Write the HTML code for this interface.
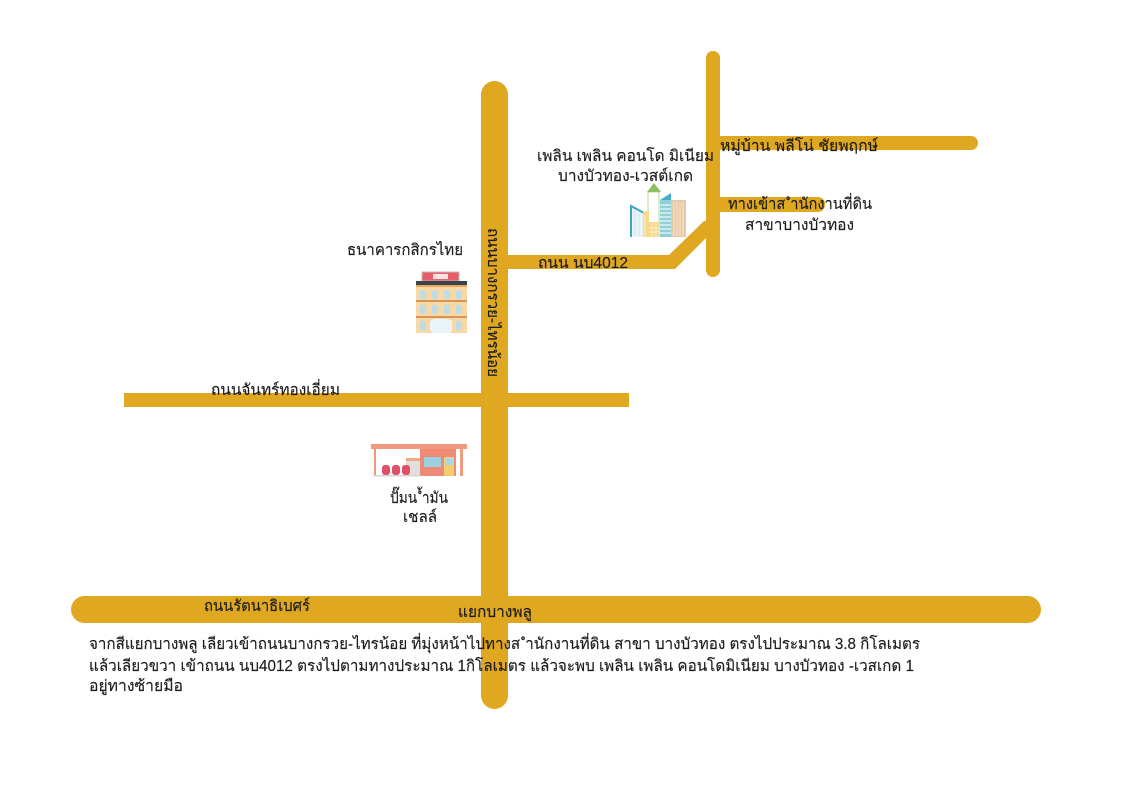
<!DOCTYPE html>
<html><head><meta charset="utf-8"><style>
html,body{margin:0;padding:0;background:#fff}
svg{display:block}
text{font-family:"Liberation Sans","Noto Sans CJK SC",sans-serif;fill:#1c1c1c;font-size:15.5px;stroke:#1c1c1c;stroke-width:.15px}
</style></head><body>
<svg width="1131" height="800" viewBox="0 0 1131 800" xmlns="http://www.w3.org/2000/svg">
<g fill="#e0a821">
<rect x="481" y="81" width="27" height="628" rx="13.5"/>
<rect x="71" y="596" width="970" height="27" rx="13.5"/>
<rect x="124" y="393" width="505" height="14"/>
<rect x="706" y="51" width="14" height="226" rx="7"/>
<rect x="715" y="136" width="263" height="14" rx="7"/>
<rect x="715" y="197" width="110" height="15" rx="7"/>
<polygon points="505,255 669,255 704,221 708,221 708,236 675,269 505,269"/>
</g>
<!-- condo -->
<g>
<polygon points="630,205 644,213 644,237 630,237" fill="#e8f4f6"/>
<path d="M635 211V236M639 213V236" stroke="#cfe8ee" stroke-width="1"/>
<path d="M631,237V206L644,213" fill="none" stroke="#3fa9c4" stroke-width="2"/>
<rect x="648" y="192" width="11" height="44" fill="#fff" stroke="#b8d890" stroke-width="1"/>
<polygon points="647,192 654,183 661,192" fill="#8cc063"/>
<rect x="643" y="211" width="6" height="26" fill="#f6d98a"/>
<rect x="649" y="222" width="10" height="15" fill="#f8d68a"/>
<path d="M652 223V237M656 223V237M649 228H659M649 232H659M645 215V237" stroke="#fdf3d8" stroke-width="1"/>
<rect x="660" y="200" width="11" height="37" fill="#8fd0d8"/>
<polygon points="660,200 671,193 671,200" fill="#45aec8"/>
<rect x="671" y="200" width="15" height="37" fill="#e8c9a4"/>
<path d="M674 202V236M677 202V236M680 202V236M683 202V236" stroke="#f5e6d2" stroke-width="1"/>
<path d="M660 205H671M660 209H671M660 213H671M660 217H671M660 221H671M660 225H671M660 229H671M660 233H671" stroke="#fff" stroke-width="1"/>
</g>
<!-- bank -->
<g>
<rect x="422" y="272" width="37" height="9" fill="#e85d68" stroke="#bbb" stroke-width="1"/>
<rect x="433" y="274" width="15" height="5" fill="#fbe4e4"/>
<rect x="416" y="281" width="51" height="4" fill="#3a4348"/>
<rect x="416" y="285" width="51" height="48" fill="#f8d9a6"/>
<rect x="416" y="285" width="51" height="2" fill="#e8a860"/>
<rect x="416" y="300" width="51" height="2" fill="#d8955a"/>
<rect x="416" y="316" width="51" height="2" fill="#d8955a"/>
<g fill="#bcdde8">
<rect x="420" y="290" width="6" height="9" rx="2"/><rect x="432" y="290" width="6" height="9" rx="2"/><rect x="444" y="290" width="6" height="9" rx="2"/><rect x="456" y="290" width="6" height="9" rx="2"/>
<rect x="420" y="305" width="6" height="9" rx="2"/><rect x="432" y="305" width="6" height="9" rx="2"/><rect x="444" y="305" width="6" height="9" rx="2"/><rect x="456" y="305" width="6" height="9" rx="2"/>
<rect x="420" y="321" width="6" height="9" rx="2"/><rect x="456" y="321" width="6" height="9" rx="2"/>
</g>
<rect x="430" y="319" width="22" height="14" rx="4" fill="#eaf5fa"/>
</g>
<!-- gas station -->
<g>
<rect x="371" y="444" width="96" height="5" fill="#f19a7d"/>
<rect x="374" y="449" width="2" height="27" fill="#f19a7d"/>
<rect x="460" y="449" width="3" height="27" fill="#f19a7d"/>
<rect x="420" y="449" width="36" height="27" fill="#ee8a76"/>
<rect x="406" y="458" width="14" height="3" fill="#f3a788"/>
<rect x="406" y="461" width="14" height="15" fill="#e2dedc"/>
<rect x="424" y="457" width="17" height="10" fill="#9cd0e0"/>
<rect x="444" y="457" width="10" height="19" fill="#f3cf72"/>
<rect x="445" y="458" width="8" height="7" fill="#a8d8e4"/>
<rect x="382" y="465" width="8" height="10" rx="3" fill="#df4f68"/>
<rect x="392" y="465" width="8" height="10" rx="3" fill="#df4f68"/>
<rect x="402" y="465" width="8" height="10" rx="3" fill="#df4f68"/>
<rect x="373" y="475" width="48" height="1.5" fill="#d5d5d5"/>
</g>
<!-- labels -->
<text x="537" y="161" textLength="177" lengthAdjust="spacingAndGlyphs">เพลิน เพลิน คอนโด มิเนียม</text>
<text x="558" y="181" textLength="135" lengthAdjust="spacingAndGlyphs">บางบัวทอง-เวสต์เกด</text>
<text x="720" y="151" textLength="158" lengthAdjust="spacingAndGlyphs">หมู่บ้าน พลีโน่  ชัยพฤกษ์</text>
<text x="728" y="209" textLength="144" lengthAdjust="spacingAndGlyphs">ทางเข้าส ำนักงานที่ดิน</text>
<text x="745" y="230" textLength="109" lengthAdjust="spacingAndGlyphs">สาขาบางบัวทอง</text>
<text x="538" y="268" textLength="90" lengthAdjust="spacingAndGlyphs">ถนน นบ4012</text>
<text x="347" y="255" textLength="116" lengthAdjust="spacingAndGlyphs">ธนาคารกสิกรไทย</text>
<text x="211" y="395" textLength="129" lengthAdjust="spacingAndGlyphs">ถนนจันทร์ทองเอี่ยม</text>
<text x="390" y="503" textLength="58" lengthAdjust="spacingAndGlyphs">ปั๊มน ้ำมัน</text>
<text x="403" y="522" textLength="34" lengthAdjust="spacingAndGlyphs">เชลล์</text>
<text x="204" y="611" textLength="106" lengthAdjust="spacingAndGlyphs">ถนนรัตนาธิเบศร์</text>
<text x="458" y="617" textLength="74" lengthAdjust="spacingAndGlyphs">แยกบางพลู</text>
<text transform="translate(488,228) rotate(90)" textLength="149" lengthAdjust="spacingAndGlyphs">ถนนบางกรวย-ไทรน้อย</text>
<text x="89" y="649" textLength="831" lengthAdjust="spacingAndGlyphs">จากสีแยกบางพลู เลียวเข้าถนนบางกรวย-ไทรน้อย ที่มุ่งหน้าไปทางส ำนักงานที่ดิน สาขา บางบัวทอง ตรงไปประมาณ 3.8 กิโลเมตร</text>
<text x="89" y="671" textLength="825" lengthAdjust="spacingAndGlyphs">แล้วเลียวขวา เข้าถนน นบ4012 ตรงไปตามทางประมาณ 1กิโลเมตร แล้วจะพบ เพลิน เพลิน คอนโดมิเนียม บางบัวทอง -เวสเกด 1</text>
<text x="89" y="691" textLength="94" lengthAdjust="spacingAndGlyphs">อยู่ทางซ้ายมือ</text>
</svg>
</body></html>
